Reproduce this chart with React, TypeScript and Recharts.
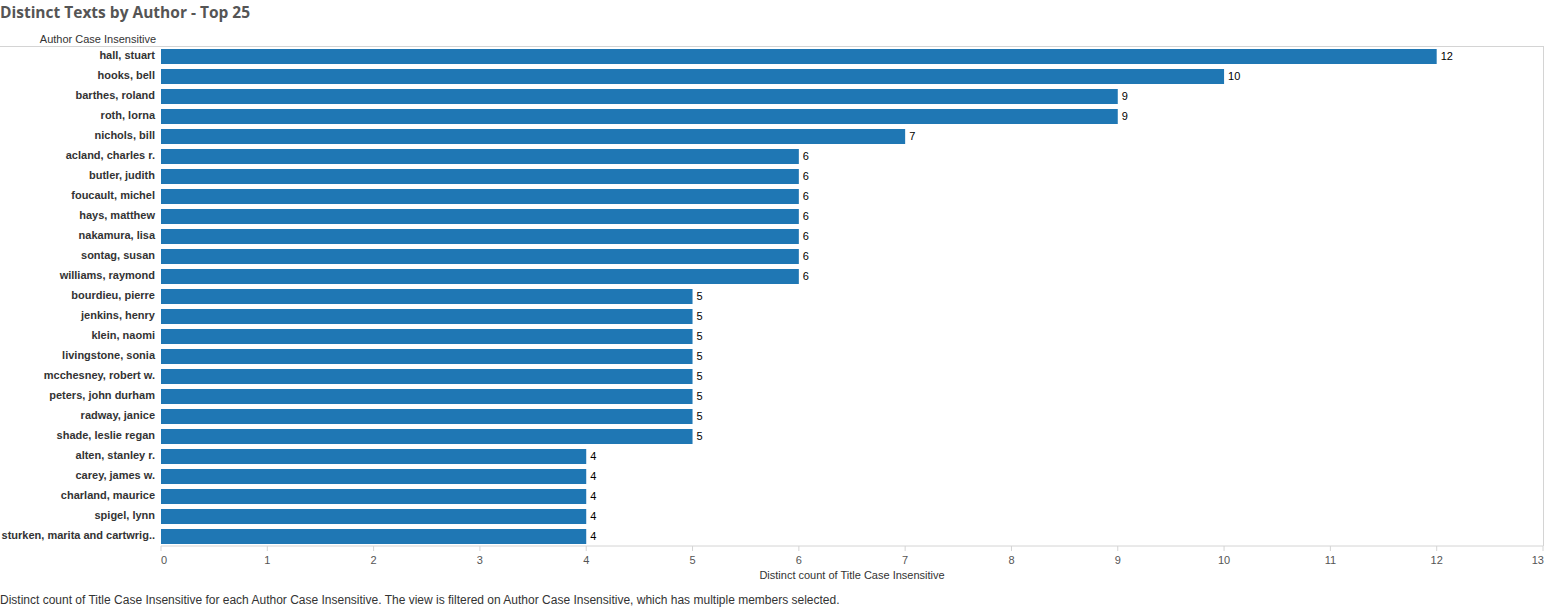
import { BarChart, Bar, XAxis, YAxis, LabelList } from "recharts";

// authors, top 25 by distinct titles
const authors = [
  "hall, stuart",
  "hooks, bell",
  "barthes, roland",
  "roth, lorna",
  "nichols, bill",
  "acland, charles r.",
  "butler, judith",
  "foucault, michel",
  "hays, matthew",
  "nakamura, lisa",
  "sontag, susan",
  "williams, raymond",
  "bourdieu, pierre",
  "jenkins, henry",
  "klein, naomi",
  "livingstone, sonia",
  "mcchesney, robert w.",
  "peters, john durham",
  "radway, janice",
  "shade, leslie regan",
  "alten, stanley r.",
  "carey, james w.",
  "charland, maurice",
  "spigel, lynn",
  "sturken, marita and cartwrig..",
];

const counts = [12, 10, 9, 9, 7, 6, 6, 6, 6, 6, 6, 6, 5, 5, 5, 5, 5, 5, 5, 5, 4, 4, 4, 4, 4];

const xTicks = [0, 1, 2, 3, 4, 5, 6, 7, 8, 9, 10, 11, 12, 13];

const data = authors.map((name, i) => ({ name, value: counts[i] }));

const FONT = "'Liberation Sans', Arial, sans-serif";

// single-line author label, no wrapping
const AuthorTick = (props: any) => {
  const { x, y, payload } = props;
  return (
    <text x={x + 2} y={y} dy={3} textAnchor="end" fill="#333" fontSize={11} fontWeight={700} fontFamily={FONT}>
      {payload.value}
    </text>
  );
};

// first and last labels nudged inward like the original
const CountTick = (props: any) => {
  const { x, y, payload } = props;
  const v = payload.value;
  const anchor = v === 0 ? "start" : v === 13 ? "end" : "middle";
  const dx = v === 13 ? 1 : 0;
  return (
    <text x={x + dx} y={y} dy={11} textAnchor={anchor} fill="#555" fontSize={11} fontFamily={FONT}>
      {v}
    </text>
  );
};

export default function App() {
  return (
    <div style={{ position: "absolute", left: 0, top: 0, width: 1545, height: 608, fontFamily: FONT }}>
      <div
        style={{
          position: "absolute",
          left: 0,
          top: 1,
          fontFamily: "'Open Sans', sans-serif",
          fontWeight: 700,
          fontSize: 15.5,
          color: "#555",
          whiteSpace: "nowrap",
        }}
      >
        Distinct Texts by Author - Top 25
      </div>
      <div
        style={{
          position: "absolute",
          right: 1545 - 156,
          top: 33,
          fontSize: 11,
          color: "#333",
          whiteSpace: "nowrap",
        }}
      >
        Author Case Insensitive
      </div>
      {/* frame lines */}
      <div style={{ position: "absolute", left: 0, top: 46, width: 1544, height: 1, background: "#d4d4d4" }} />
      <div style={{ position: "absolute", left: 1543, top: 46, width: 1, height: 500, background: "#d4d4d4" }} />
      <BarChart
        width={1545}
        height={608}
        data={data}
        layout="vertical"
        margin={{ top: 46, right: 2, bottom: 22, left: 0 }}
        barSize={15}
      >
        <XAxis
          type="number"
          domain={[0, 13]}
          ticks={xTicks}
          interval={0}
          height={40}
          stroke="#d4d4d4"
          tickSize={5}
          tick={<CountTick />}
          label={{
            value: "Distinct count of Title Case Insensitive",
            position: "insideBottom",
            offset: 7,
            fill: "#333",
            fontSize: 11,
            fontFamily: FONT,
          }}
        />
        <YAxis
          type="category"
          dataKey="name"
          width={161}
          axisLine={false}
          tickLine={false}
          interval={0}
          tick={<AuthorTick />}
        />
        <Bar dataKey="value" fill="#1f77b4" isAnimationActive={false}>
          <LabelList dataKey="value" position="right" offset={4} fill="#000" fontSize={11} fontFamily={FONT} />
        </Bar>
      </BarChart>
      <div style={{ position: "absolute", left: 0, top: 593, fontSize: 12, color: "#333", whiteSpace: "nowrap" }}>
        Distinct count of Title Case Insensitive for each Author Case Insensitive. The view is filtered on Author Case
        Insensitive, which has multiple members selected.
      </div>
    </div>
  );
}
